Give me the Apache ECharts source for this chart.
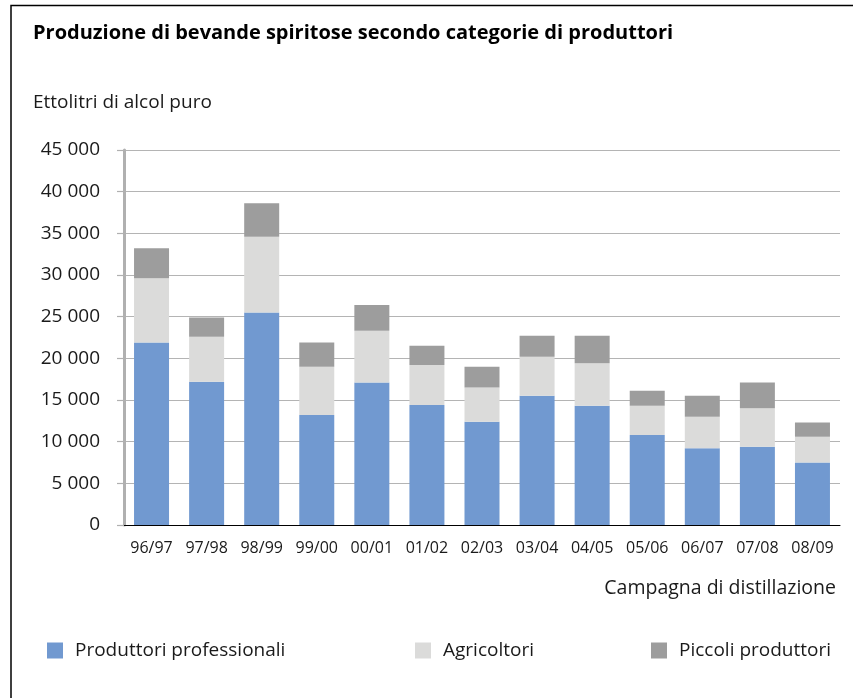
<!DOCTYPE html>
<html>
<head>
<meta charset="utf-8">
<script src="https://cdn.jsdelivr.net/npm/echarts@6/dist/echarts.min.js"></script>
<style>
html,body{margin:0;padding:0;background:#fff;}
#c{width:853px;height:698px;}
</style>
</head>
<body>
<div id="c"></div>
<script>
const categories = ['96/97','97/98','98/99','99/00','00/01','01/02','02/03','03/04','04/05','05/06','06/07','07/08','08/09'];
const professionali = [21900,17200,25500,13200,17100,14400,12400,15500,14300,10800,9200,9400,7500];
const agricoltori = [7700,5400,9100,5800,6200,4800,4100,4700,5100,3500,3800,4600,3100];
const piccoli = [3600,2300,4000,2900,3100,2300,2500,2500,3300,1800,2500,3100,1700];
const seriesNames = ['Produttori professionali','Agricoltori','Piccoli produttori'];

const FONT = 'Open Sans';
const chart = echarts.init(document.getElementById('c'));
const legendCommon = {
  orient:'horizontal', top:641, padding:0, itemWidth:16, itemHeight:16, icon:'rect',
  textStyle:{fontFamily:FONT,fontSize:19,color:'#1a1a1a',padding:[0,0,0,7]}
};
chart.setOption({
  animation:false,
  backgroundColor:'#fff',
  title:[
    {text:'Produzione di bevande spiritose secondo categorie di produttori',left:28,top:18,
     textStyle:{fontFamily:FONT,fontSize:20,fontWeight:'bold',color:'#000'}},
    {text:'Ettolitri di alcol puro',left:28,top:88,
     textStyle:{fontFamily:FONT,fontSize:19,fontWeight:'normal',color:'#1a1a1a'}},
    {text:'Campagna di distillazione',right:12,top:573,
     textStyle:{fontFamily:FONT,fontSize:19.5,fontWeight:'normal',color:'#1a1a1a'}}
  ],
  legend:[
    Object.assign({data:[seriesNames[0]],left:47},legendCommon),
    Object.assign({data:[seriesNames[1]],left:415},legendCommon),
    Object.assign({data:[seriesNames[2]],left:651},legendCommon)
  ],
  graphic:[{type:'rect',shape:{x:11,y:5.5,width:1000,height:1000},style:{fill:'none',stroke:'#000',lineWidth:1.5},silent:true}],
  grid:{left:124,right:13,top:150,bottom:173,containLabel:false},
  xAxis:{
    type:'category',data:categories,
    axisLine:{show:true,lineStyle:{color:'#000',width:1}},
    axisTick:{show:false},
    axisLabel:{fontFamily:FONT,fontSize:16,color:'#1a1a1a',margin:15,interval:0}
  },
  yAxis:{
    type:'value',min:0,max:45000,interval:5000,
    axisLine:{show:true,lineStyle:{color:'#b0b0b0',width:3}},
    axisTick:{show:true,length:7,lineStyle:{color:'#b0b0b0',width:1.2}},
    splitLine:{show:true,lineStyle:{color:'#b4b4b4',width:1.2}},
    axisLabel:{fontFamily:FONT,fontSize:19,color:'#1a1a1a',margin:24,
      formatter:v=>v===0?'0':(v/1000)+' 000'}
  },
  series:[
    {name:seriesNames[0],type:'bar',stack:'s',data:professionali,barWidth:35,itemStyle:{color:'#7199D0'}},
    {name:seriesNames[1],type:'bar',stack:'s',data:agricoltori,barWidth:35,itemStyle:{color:'#DBDBDA'}},
    {name:seriesNames[2],type:'bar',stack:'s',data:piccoli,barWidth:35,itemStyle:{color:'#9D9D9D'}}
  ]
});
</script>
</body>
</html>
